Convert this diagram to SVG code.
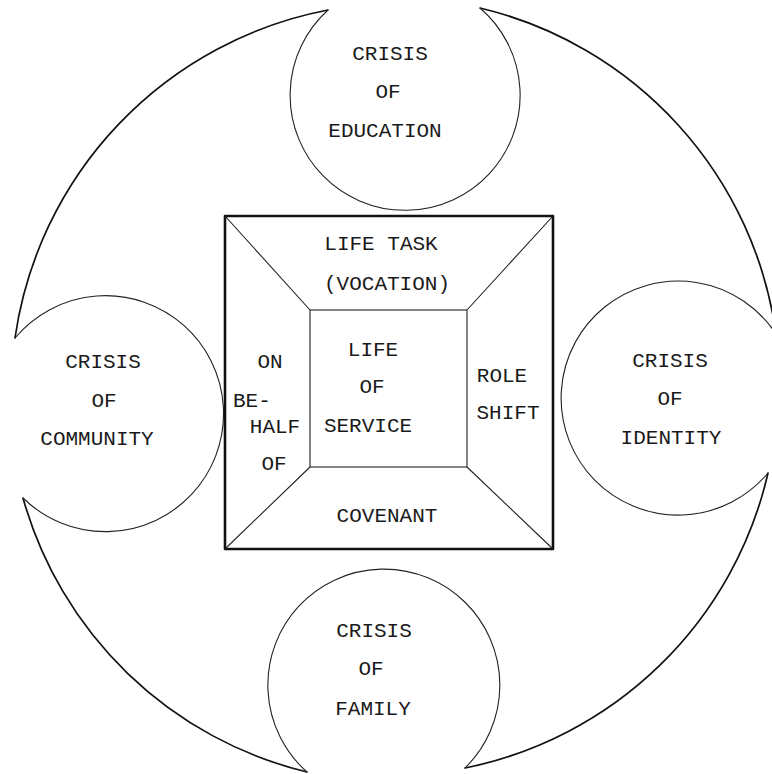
<svg xmlns="http://www.w3.org/2000/svg" width="772" height="774" viewBox="0 0 772 774">
<style>
.t{font-family:"Liberation Mono","Courier New",monospace;font-size:21px;fill:#1a1a1a;text-anchor:middle}
.tl{font-family:"Liberation Mono","Courier New",monospace;font-size:21px;fill:#1a1a1a}
.c{fill:none;stroke:#222;stroke-width:1.1}
.o{fill:none;stroke:#111;stroke-width:1.7;stroke-linecap:round}
.sq{fill:none;stroke:#111;stroke-width:2.6;stroke-linejoin:round}
.in{fill:none;stroke:#222;stroke-width:1.1}
</style>
<rect width="772" height="774" fill="#fff"/>
<g id="outer-arcs">
<path class="o" d="M480 8 A390 390 0 0 1 776 334"/>
<path class="o" d="M768 473 A390 390 0 0 1 465 768"/>
<path class="o" d="M307 772 A390 390 0 0 1 23 498"/>
<path class="o" d="M15 338 A390 390 0 0 1 328 10"/>
</g>
<g id="education">
<path class="c" d="M328 10 A115 115 0 1 0 480 8"/>
<text class="t" x="390" y="60">CRISIS</text>
<text class="t" x="388" y="98">OF</text>
<text class="t" x="385" y="137">EDUCATION</text>
</g>
<g id="identity">
<path class="c" d="M776 334 A117 117 0 1 0 768 473"/>
<text class="t" x="670" y="367">CRISIS</text>
<text class="t" x="670" y="405">OF</text>
<text class="t" x="671" y="444">IDENTITY</text>
</g>
<g id="family">
<path class="c" d="M465 768 A116 116 0 1 0 307 772"/>
<text class="t" x="374" y="637">CRISIS</text>
<text class="t" x="371" y="675">OF</text>
<text class="t" x="373" y="715">FAMILY</text>
</g>
<g id="community">
<path class="c" d="M23 498 A118 118 0 1 0 15 338"/>
<text class="t" x="103" y="368">CRISIS</text>
<text class="t" x="104" y="407">OF</text>
<text class="t" x="97" y="445">COMMUNITY</text>
</g>
<g id="square">
<rect class="sq" x="225" y="216" width="328" height="333"/>
<rect class="in" x="310" y="310" width="157" height="157"/>
<path class="in" d="M225 216 L310 310 M553 216 L467 310 M225 549 L310 467 M553 549 L467 467"/>
</g>
<g id="life-task">
<text class="t" x="381" y="250">LIFE TASK</text>
<text class="t" x="387" y="290">(VOCATION)</text>
</g>
<g id="life-of-service">
<text class="t" x="373" y="356">LIFE</text>
<text class="t" x="372" y="393">OF</text>
<text class="t" x="368" y="432">SERVICE</text>
</g>
<g id="on-behalf-of">
<text class="t" x="270" y="368">ON</text>
<text class="tl" x="233" y="407">BE-</text>
<text class="t" x="275" y="433">HALF</text>
<text class="t" x="274" y="470">OF</text>
</g>
<g id="role-shift">
<text class="t" x="502" y="382">ROLE</text>
<text class="t" x="508" y="419">SHIFT</text>
</g>
<g id="covenant">
<text class="t" x="387" y="522">COVENANT</text>
</g>
</svg>
